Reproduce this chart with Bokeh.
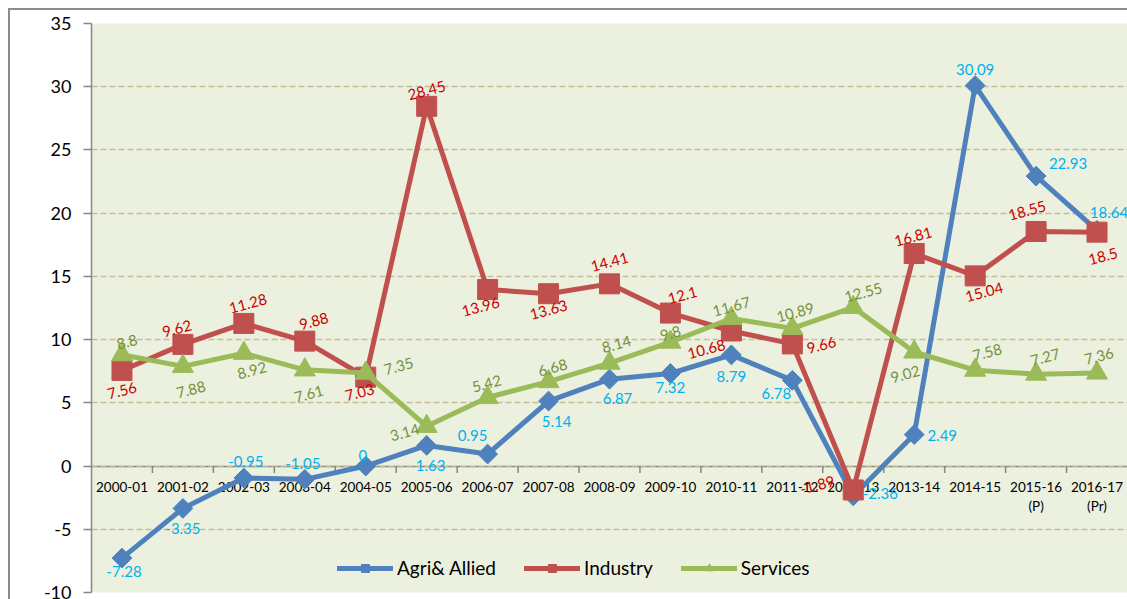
from bokeh.plotting import figure
from bokeh.models import (ColumnDataSource, FactorRange, Range1d, Legend, LegendItem,
                          SingleIntervalTicker)
from bokeh.core.properties import value
from bokeh.embed import file_html
from bokeh.resources import INLINE

# ---------------- data ----------------
years = ["2000-01", "2001-02", "2002-03", "2003-04", "2004-05", "2005-06", "2006-07",
         "2007-08", "2008-09", "2009-10", "2010-11", "2011-12", "2012-13", "2013-14",
         "2014-15", "2015-16\n(P)", "2016-17\n(Pr)"]
agri = [-7.28, -3.35, -0.95, -1.05, 0, 1.63, 0.95, 5.14, 6.87, 7.32, 8.79, 6.78,
        -2.36, 2.49, 30.09, 22.93, 18.64]
industry = [7.56, 9.62, 11.28, 9.88, 7.03, 28.45, 13.96, 13.63, 14.41, 12.1, 10.68, 9.66,
            -1.89, 16.81, 15.04, 18.55, 18.5]
services = [8.8, 7.88, 8.92, 7.61, 7.35, 3.14, 5.42, 6.68, 8.14, 9.8, 11.67, 10.89,
            12.55, 9.02, 7.58, 7.27, 7.36]
series_names = ["Agri& Allied", "Industry", "Services"]
y_ticks = [-10, -5, 0, 5, 10, 15, 20, 25, 30, 35]

# label placement (pixel offsets from each point)
agri_dx = [2, 0, 2, -2, -3, 4, -15, 8, 8, 0, 0, -16, 27, 28, 0, 32, 12]
agri_dy = [13, 20, -17, -16, -11, 20, -19, 20, 19, 14, 22, 13, -2, 1, -16, -13, -18]
ind_dx = [0, -6, 4, 9, -6, 0, -7, 0, 0, 12, -25, 29, -36, -1, 9, -9, 6]
ind_dy = [20, -16, -20, -20, 15, -16, 17, 16, -22, -18, 18, 1, -5, -17, 16, -21, 24]
srv_dx = [5, 8, 8, 4, 33, -22, -1, 4, 7, 0, 0, 3, 10, -9, 12, 9, 2]
srv_dy = [-13, 23, 17, 24, -7, 6, -14, -14, -19, -9, -12, -16, -15, 22, -18, -17, -17]

FONT = "Lato"


def fmt(v):
    return f"{v:g}"


p = figure(width=1119, height=591,
           x_range=FactorRange(factors=years),
           y_range=Range1d(y_ticks[0], y_ticks[-1]),
           output_backend="svg", toolbar_location=None,
           min_border_left=81, min_border_right=2, min_border_top=13, min_border_bottom=9,
           background_fill_color="#EBF1DE", border_fill_color="white")
p.styles = {"margin-left": "8px", "margin-top": "8px",
            "border-top": "2px solid #8c8c8c", "border-left": "2px solid #8c8c8c"}
p.outline_line_color = None

# grid
p.xgrid.visible = False
p.ygrid.grid_line_color = "#C4BD97"
p.ygrid.grid_line_dash = "6 3"
p.ygrid.grid_line_width = 1.5

# y axis
p.yaxis.ticker = SingleIntervalTicker(interval=5)
p.yaxis.major_label_overrides = {t: str(t) for t in y_ticks}
p.yaxis.axis_line_color = "#868686"
p.yaxis.axis_line_width = 1.5
p.yaxis.major_tick_line_color = "#868686"
p.yaxis.major_tick_line_width = 1.5
p.yaxis.major_tick_out = 8
p.yaxis.major_tick_in = 0
p.yaxis.minor_tick_line_color = None
p.yaxis.major_label_standoff = 12
p.yaxis.major_label_text_font = FONT
p.yaxis.major_label_text_font_size = "18px"
p.yaxis.major_label_text_color = "black"

# x axis crossing at zero
p.xaxis.fixed_location = 0
p.xaxis.level = "underlay"
p.xaxis.axis_line_color = "#868686"
p.xaxis.axis_line_width = 1.5
p.xaxis.major_tick_line_color = None
p.xaxis.major_tick_out = 0
p.xaxis.major_tick_in = 0
p.xaxis.minor_tick_line_color = None
p.xaxis.major_label_standoff = 13
p.xaxis.major_label_text_font = FONT
p.xaxis.major_label_text_font_size = "13.5px"
p.xaxis.major_label_text_color = "black"

# tick marks between categories
tick_src = ColumnDataSource(dict(x=[(c, 0.5) for c in years[:-1]],
                                 y0=[0] * (len(years) - 1),
                                 y1=[-0.55] * (len(years) - 1)))
p.segment(x0="x", x1="x", y0="y0", y1="y1", source=tick_src,
          line_color="#868686", line_width=1.5)

specs = [
    (agri, "#4F81BD", "square", 14, 0.785398, "#00B0F0", 0.0, agri_dx, agri_dy),
    (industry, "#C0504D", "square", 20, 0.0, "#CC0000", 0.26, ind_dx, ind_dy),
    (services, "#9BBB59", "triangle", 21, 0.0, "#76923C", 0.26, srv_dx, srv_dy),
]

items = []
sources = []
for name, (vals, col, mk, sz, ang, lcol, rot, dx, dy) in zip(series_names, specs):
    src = ColumnDataSource(dict(x=years, y=vals, label=[fmt(v) for v in vals], dx=dx, dy=dy))
    ln = p.line("x", "y", source=src, line_color=col, line_width=5,
                line_join="round", line_cap="round")
    sc = p.scatter("x", "y", source=src, marker=mk, size=sz, angle=ang,
                   fill_color=col, line_color=col)
    items.append(LegendItem(label=name, renderers=[ln, sc]))
    sources.append((src, lcol, rot))

for src, lcol, rot in sources:
    p.text(x="x", y="y", text="label", x_offset="dx", y_offset="dy", angle=rot,
           source=src, text_color=lcol, text_font=value(FONT), text_font_size="15px",
           text_align="center", text_baseline="middle")

legend = Legend(items=items, orientation="horizontal", location=(246, 13),
                label_text_font=FONT, label_text_font_size="19px", label_text_color="black",
                glyph_width=56, glyph_height=20, label_height=20, label_standoff=4,
                spacing=28, padding=0, margin=0,
                background_fill_alpha=0, border_line_alpha=0)
p.add_layout(legend)

open("out.html", "w").write(file_html(p, INLINE))
